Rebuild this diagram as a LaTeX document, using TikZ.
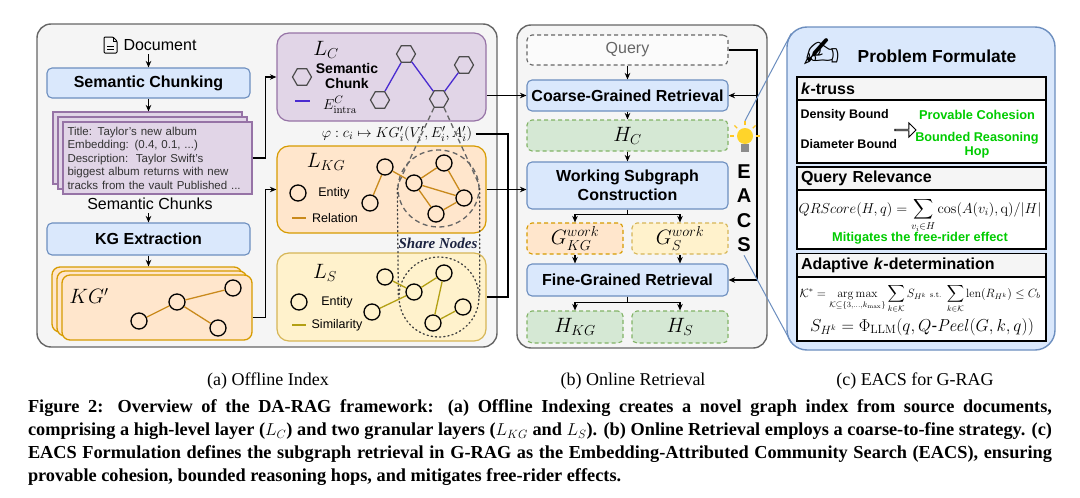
\documentclass[tikz,border=0pt]{standalone}
\usepackage{amsmath}
\usepackage{amssymb}
\usepackage[no-math]{fontspec}
\setmainfont{Liberation Sans}
\newfontfamily\capfont{Liberation Serif}
\newfontfamily\symfont{DejaVu Sans}
\usetikzlibrary{shapes, arrows.meta, calc, positioning}
\newcommand*{\fsz}[1]{\fontsize{#1}{#1}\selectfont}

\definecolor{panelfill}{HTML}{F5F5F5}
\definecolor{panelline}{HTML}{666666}
\definecolor{bluefill}{HTML}{DAE8FC}
\definecolor{blueline}{HTML}{6C8EBF}
\definecolor{purplefill}{HTML}{E1D5E7}
\definecolor{purpleline}{HTML}{9673A6}
\definecolor{orangefill}{HTML}{FFE6CC}
\definecolor{orangeline}{HTML}{D79B00}
\definecolor{yellowfill}{HTML}{FFF2CC}
\definecolor{yellowline}{HTML}{D6B656}
\definecolor{greenfill}{HTML}{D5E8D4}
\definecolor{greenline}{HTML}{82B366}
\definecolor{intraedge}{HTML}{4A2BD0}
\definecolor{reledge}{HTML}{C98A1C}
\definecolor{simedge}{HTML}{B3A014}
\definecolor{goodgreen}{HTML}{00CC00}
\definecolor{bulbyellow}{HTML}{FFD42A}
\definecolor{sharecol}{HTML}{1C2340}

\tikzset{
 panel/.style={draw=panelline, fill=panelfill, line width=1.4pt, rounded corners=14pt, inner sep=0pt},
 stage/.style={draw=blueline, fill=bluefill, line width=1.1pt, rounded corners=5pt, inner sep=0pt, font=\bfseries\fsz{16}},
 holder/.style={dash pattern=on 4pt off 3pt, line width=1.1pt, rounded corners=5pt, inner sep=0pt, font=\fsz{20}},
 hres/.style={holder, draw=greenline, fill=greenfill},
 card/.style={line width=1.1pt, inner sep=0pt},
 layer/.style={line width=1.2pt, rounded corners=12pt, inner sep=0pt, minimum width=209pt},
 entity/.style={circle, draw, line width=1.3pt, minimum size=16pt, inner sep=0pt},
 chunk/.style={regular polygon, regular polygon sides=6, draw=black!70, line width=1.2pt, minimum size=19pt, inner sep=0pt},
 ring/.style={ellipse, line width=1.3pt, inner sep=0pt},
 arr/.style={-{Stealth[length=6.5pt,width=5.5pt]}, line width=1.1pt},
 conn/.style={line width=1.1pt},
 legend/.style={font=\fsz{12.5}},
 hdr/.style={draw, line width=1.5pt, fill=panelfill, minimum height=23pt, text width=241pt, inner xsep=4pt, inner ysep=0pt, align=left, font=\bfseries\fsz{16}},
 fbody/.style={draw, line width=1.5pt, fill=white, minimum width=249pt, inner sep=0pt},
 good/.style={text=goodgreen, font=\bfseries\fsz{12.8}}
}

\begin{document}
\begin{tikzpicture}[x=1pt, y=-1pt, font=\fsz{16}]
 \useasboundingbox[fill=white] (0,0) rectangle (1080,498);
 \node[panel, minimum width=460pt, minimum height=323pt] (offline) at (267,185.5) {};
 \node[panel, minimum width=250pt, minimum height=323pt] (online) at (642,186.5) {};
 \node[panel, draw=blueline, fill=bluefill, rounded corners=20pt, minimum width=268pt, minimum height=323pt] (formulate) at (921,188.5) {};

 \node (doc) at (160,45) {Document};
 \draw[line width=1pt, rounded corners=1pt] ($(doc.west)+(-16,-8)$) -- ++(9,0) -- ++(4,4) -- ++(0,12) -- ++(-13,0) -- cycle;
 \draw[line width=0.9pt] ($(doc.west)+(-7,-8)$) -- ++(0,4) -- ++(4,0);
 \draw[line width=0.9pt] ($(doc.west)+(-13,1)$) -- ++(7,0) ($(doc.west)+(-13,4)$) -- ++(7,0);
 \node[stage, minimum width=203pt, minimum height=30pt] (chunking) at (148.5,83) {Semantic Chunking};
 \draw[arr] (chunking.north |- doc.south) -- (chunking.north);

 \node[card, draw=purpleline, fill=purplefill, minimum width=189pt, minimum height=72pt] (chunk3) at (147.5,148) {};
 \node[card, draw=purpleline, fill=purplefill, minimum width=189pt, minimum height=72pt] (chunk2) at (152.5,153) {};
 \node[card, draw=purpleline, fill=purplefill, minimum width=189pt, minimum height=72pt, text width=180pt, inner xsep=4.5pt, align=left, text=black!80, font=\fontsize{11.5}{13.5}\selectfont] (chunk1) at (157.5,158) {Title: Taylor's new album\\Embedding: (0.4, 0.1, ...)\\Description:\ \ Taylor Swift's\\biggest album returns with new\\tracks from the vault Published ...};
 \draw[arr] (chunking.south) -- (chunking.south |- chunk3.north);
 \node (chunks) at (150,204) {Semantic Chunks};
 \node[stage, minimum width=203pt, minimum height=32pt] (extraction) at (148.5,239) {KG Extraction};
 \draw[arr] (extraction.north |- chunks.south) -- (extraction.north);

 \node[card, rounded corners=8pt, line width=1.3pt, draw=orangeline, fill=orangefill, minimum width=190pt, minimum height=65pt] (kg3) at (147,299.5) {};
 \node[card, rounded corners=8pt, line width=1.3pt, draw=orangeline, fill=orangefill, minimum width=190pt, minimum height=65pt] (kg2) at (152,303.5) {};
 \node[card, rounded corners=8pt, line width=1.3pt, draw=orangeline, fill=orangefill, minimum width=190pt, minimum height=65pt] (kg1) at (157,307.5) {};
 \draw[arr] (extraction.south) -- (extraction.south |- kg3.north);
 \node[font=\fsz{20}] (kglabel) at (89,296) {$KG'$};
 \node[entity] (ka) at (139,321) {};
 \node[entity] (kb) at (177,302) {};
 \node[entity] (kc) at (233,288) {};
 \node[entity] (kd) at (218,328) {};
 \draw[reledge, line width=1.3pt] (ka) -- (kb) (kb) -- (kc) (kb) -- (kd);

 \node[layer, draw=purpleline, fill=purplefill, minimum height=88pt] (LC) at (381.5,77) {};
 \node[layer, draw=orangeline, fill=orangefill, minimum height=87pt] (LKG) at (381.5,189.5) {};
 \node[layer, draw=yellowline, fill=yellowfill, minimum height=88pt] (LS) at (381.5,297) {};
 \draw[arr] (chunk1.east) -- ++(13,0) |- (LC.west);
 \draw[arr] ([yshift=-10pt]kg1.east) -- ++(13,0) |- (LKG.west);

 \node[font=\fsz{20}] (lclabel) at (326,50) {$L_C$};
 \node[chunk] (legc) at (302,77) {};
 \node[font=\bfseries\fontsize{14}{15}\selectfont, align=center] (legctext) at (347,76) {Semantic\\Chunk};
 \draw[intraedge, line width=1.3pt] (295,101) -- (310,101);
 \node[font=\fsz{15}] (legetext) at (340,105) {$E^{C}_{\mathrm{intra}}$};
 \node[chunk] (c1) at (380,100) {};
 \node[chunk] (c2) at (406,54) {};
 \node[chunk] (c3) at (439,99) {};
 \node[chunk] (c4) at (464,65) {};
 \draw[intraedge, line width=1.3pt] (c1) -- (c2) (c2) -- (c3) (c3) -- (c4);
 \node[font=\fsz{15}] (phi) at (397,134) {$\varphi : c_i \mapsto KG'_i(V'_i, E'_i, A'_i)$};

 \node[font=\fsz{20}] (lkglabel) at (326,162) {$L_{KG}$};
 \node[entity] (legkg) at (298,193) {};
 \node[legend] (legkgtext) at (334,193) {Entity};
 \draw[reledge, line width=1.3pt] (292,218) -- (306,218);
 \node[legend] (legreltext) at (335,218) {Relation};
 \node[ring, draw=black!60, dash pattern=on 5pt off 3.5pt, minimum width=81pt, minimum height=77pt] (kgring) at (438.5,188.5) {};
 \draw[black!60, line width=1.3pt, dash pattern=on 5pt off 3.5pt] (c3.240) -- (kgring.176) (c3.300) -- (kgring.4);
 \node[entity] (r1) at (385,167) {};
 \node[entity] (r2) at (370,203) {};
 \node[entity] (r3) at (414,183) {};
 \node[entity] (r4) at (444,163) {};
 \node[entity] (r5) at (464,198) {};
 \node[entity] (r6) at (436,214) {};
 \draw[reledge, line width=1.3pt] (r1) -- (r2) (r1) -- (r3) (r3) -- (r4) (r3) -- (r5) (r3) -- (r6) (r4) -- (r5) (r5) -- (r6);

 \node[font=\fsz{20}] (lslabel) at (325,273) {$L_S$};
 \node[entity] (legs) at (299,302) {};
 \node[legend] (legstext) at (337,302) {Entity};
 \draw[simedge, line width=1.3pt] (292,325) -- (306,325);
 \node[legend] (legsimtext) at (337,325) {Similarity};
 \node[ring, draw=black!75, dash pattern=on 1.2pt off 3pt, line cap=round, minimum width=80pt, minimum height=80pt] (sring) at (439,297) {};
 \draw[black!75, line width=1.3pt, dash pattern=on 1.2pt off 3pt, line cap=round] (kgring.west) -- (sring.west) (kgring.east) -- (sring.east);
 \node[font=\capfont\bfseries\itshape\fsz{15}, text=sharecol] (share) at (438,243) {Share Nodes};
 \node[entity] (s1) at (385,277) {};
 \node[entity] (s2) at (372,312) {};
 \node[entity] (s3) at (414,292) {};
 \node[entity] (s4) at (444,273) {};
 \node[entity] (s5) at (463,307) {};
 \node[entity] (s6) at (433,323) {};
 \draw[simedge, line width=1.3pt] (s1) -- (s3) (s2) -- (s3) (s3) -- (s4) (s4) -- (s6) (s6) -- (s5);

 \node[holder, draw=panelline, fill=white!60!panelfill, text=panelline, font=\fsz{16}, minimum width=201pt, minimum height=30pt] (query) at (627.5,50) {Query};
 \node[stage, minimum width=201pt, minimum height=31pt] (coarse) at (627.5,95.5) {Coarse-Grained Retrieval};
 \node[hres, minimum width=201pt, minimum height=31pt] (hc) at (627.5,135.5) {$H_C$};
 \node[stage, minimum width=201pt, minimum height=47pt, align=center, font=\bfseries\fontsize{16}{19}\selectfont] (wsc) at (627.5,185.5) {Working Subgraph\\Construction};
 \node[holder, draw=orangeline, fill=orangefill, minimum width=96pt, minimum height=31pt] (gkg) at (575,238.5) {$G^{work}_{KG}$};
 \node[holder, draw=yellowline, fill=yellowfill, minimum width=96pt, minimum height=31pt] (gs) at (680,238.5) {$G^{work}_{S}$};
 \node[stage, minimum width=201pt, minimum height=32pt] (fine) at (627.5,280) {Fine-Grained Retrieval};
 \node[hres, minimum width=96pt, minimum height=32pt] (hkg) at (575,327) {$H_{KG}$};
 \node[hres, minimum width=96pt, minimum height=32pt] (hs) at (680,327) {$H_S$};
 \draw[arr] (query) -- (coarse);
 \draw[arr] (coarse) -- (hc);
 \draw[arr] (hc) -- (wsc);
 \draw[arr] (wsc.south) -- ++(0,5) -| (gkg.north);
 \draw[arr] (wsc.south) -- ++(0,5) -| (gs.north);
 \draw[arr] (gkg.south) -- (gkg.south |- fine.north);
 \draw[arr] (gs.south) -- (gs.south |- fine.north);
 \draw[arr] (fine.south) -- ++(0,6) -| (hkg.north);
 \draw[arr] (fine.south) -- ++(0,6) -| (hs.north);

 \coordinate (lbus) at (508,0);
 \coordinate (rbus) at (757,0);
 \draw[arr] (LC.east |- coarse.west) -- (coarse.west);
 \draw[arr] (LKG.east) -- (LKG.east -| wsc.west);
 \draw[conn] (phi.east) -| (lbus |- LS.east) -- (LS.east);
 \draw[arr] (query.east) -| (rbus |- fine.east) -- (fine.east);
 \draw[arr] (rbus |- coarse.east) -- (coarse.east);

 \node[font=\bfseries\fontsize{20}{24.5}\selectfont, align=center] (eacs) at (744,208) {E\\A\\C\\S};
 \foreach \a in {180,225,...,360}
  \draw[bulbyellow!85!orange, line width=1.2pt] ($(745,136)+(\a:11)$) -- ($(745,136)+(\a:15)$);
 \node[circle, fill=bulbyellow, minimum size=16pt, inner sep=0pt] (bulb) at (745,136) {};
 \fill[black!45] (741,144) rectangle (749,152);
 \draw[blueline, line width=1pt] ([yshift=7pt]bulb.north) -- ([shift={(5,7)}]formulate.north west);
 \draw[blueline, line width=1pt] (eacs.south) -- ([shift={(5,-8)}]formulate.south west);

 \node[font=\symfont\fsz{44}, inner sep=0pt] (hand) at (822,54) {✍};
 \node[font=\bfseries\fsz{17.4}] (ptitle) at (937,56) {Problem Formulate};
 \node[fbody, minimum height=63pt] (trussb) at (921.5,131.5) {};
 \node[hdr] (trussh) at (921.5,88.5) {\textit{k}-truss};
 \node[font=\bfseries\fsz{12.5}, anchor=west] (dens) at (797,115) {Density Bound};
 \node[font=\bfseries\fsz{12.5}, anchor=west] (diam) at (797,144) {Diameter Bound};
 \node[single arrow, draw, fill=white, line width=0.9pt, minimum height=21pt, minimum width=14pt, single arrow head extend=3.5pt, inner sep=0pt] (impl) at (905,130) {};
 \node[good] (cohesion) at (977,115) {Provable Cohesion};
 \node[good, align=center, font=\bfseries\fontsize{12.7}{14}\selectfont] (hop) at (977,145) {Bounded Reasoning\\Hop};

 \node[fbody, minimum height=59pt] (qrb) at (921.5,219.5) {};
 \node[hdr] (qrh) at (921.5,178.5) {Query Relevance};
 \node[font=\fsz{14}, anchor=base, inner sep=0pt] (qrf) at (920,213) {$\displaystyle QRScore(H,q)=\sum_{v_i\in H}\cos(A(v_i),\mathrm{q})/|H|$};
 \node[good, inner sep=0pt] (freerider) at (920,238) {Mitigates the free-rider effect};

 \node[fbody, minimum height=64pt] (adab) at (921.5,309) {};
 \node[hdr] (adah) at (921.5,265) {Adaptive \textit{k}-determination};
 \node[font=\fsz{12}, anchor=base] (kstar) at (920,297) {$\displaystyle \mathcal{K}^*=\operatorname*{arg\,max}_{\mathcal{K}\subseteq\{3,\ldots,k_{\max}\}}\sum_{k\in\mathcal{K}}S_{H^k}\ {\scriptstyle\mathrm{s.t.}}\ \sum_{k\in\mathcal{K}}\mathrm{len}(R_{H^k})\le C_b$};
 \node[font=\fsz{17}, anchor=base] (shk) at (922,331) {$S_{H^k}=\Phi_{\mathrm{LLM}}(q,Q\mbox{-}\mathit{Peel}(G,k,q))$};

 \node[font=\capfont\fsz{18}] (capa) at (268,381) {(a) Offline Index};
 \node[font=\capfont\fsz{18}] (capb) at (633,381) {(b) Online Retrieval};
 \node[font=\capfont\fsz{18}] (capc) at (915,381) {(c) EACS for G-RAG};
 \node[font=\capfont\bfseries\fontsize{18.3}{23}\selectfont, text width=1024pt, align=justify, inner sep=0pt] (figcap) at (540,443) {Figure 2: Overview of the DA-RAG framework: (a) Offline Indexing creates a novel graph index from source documents,\linebreak comprising a high-level layer ($L_C$) and two granular layers ($L_{KG}$ and $L_S$). (b) Online Retrieval employs a coarse-to-fine strategy. (c)\linebreak EACS Formulation defines the subgraph retrieval in G-RAG as the Embedding-Attributed Community Search (EACS), ensuring\linebreak provable cohesion, bounded reasoning hops, and mitigates free-rider effects.};
\end{tikzpicture}
\end{document}
